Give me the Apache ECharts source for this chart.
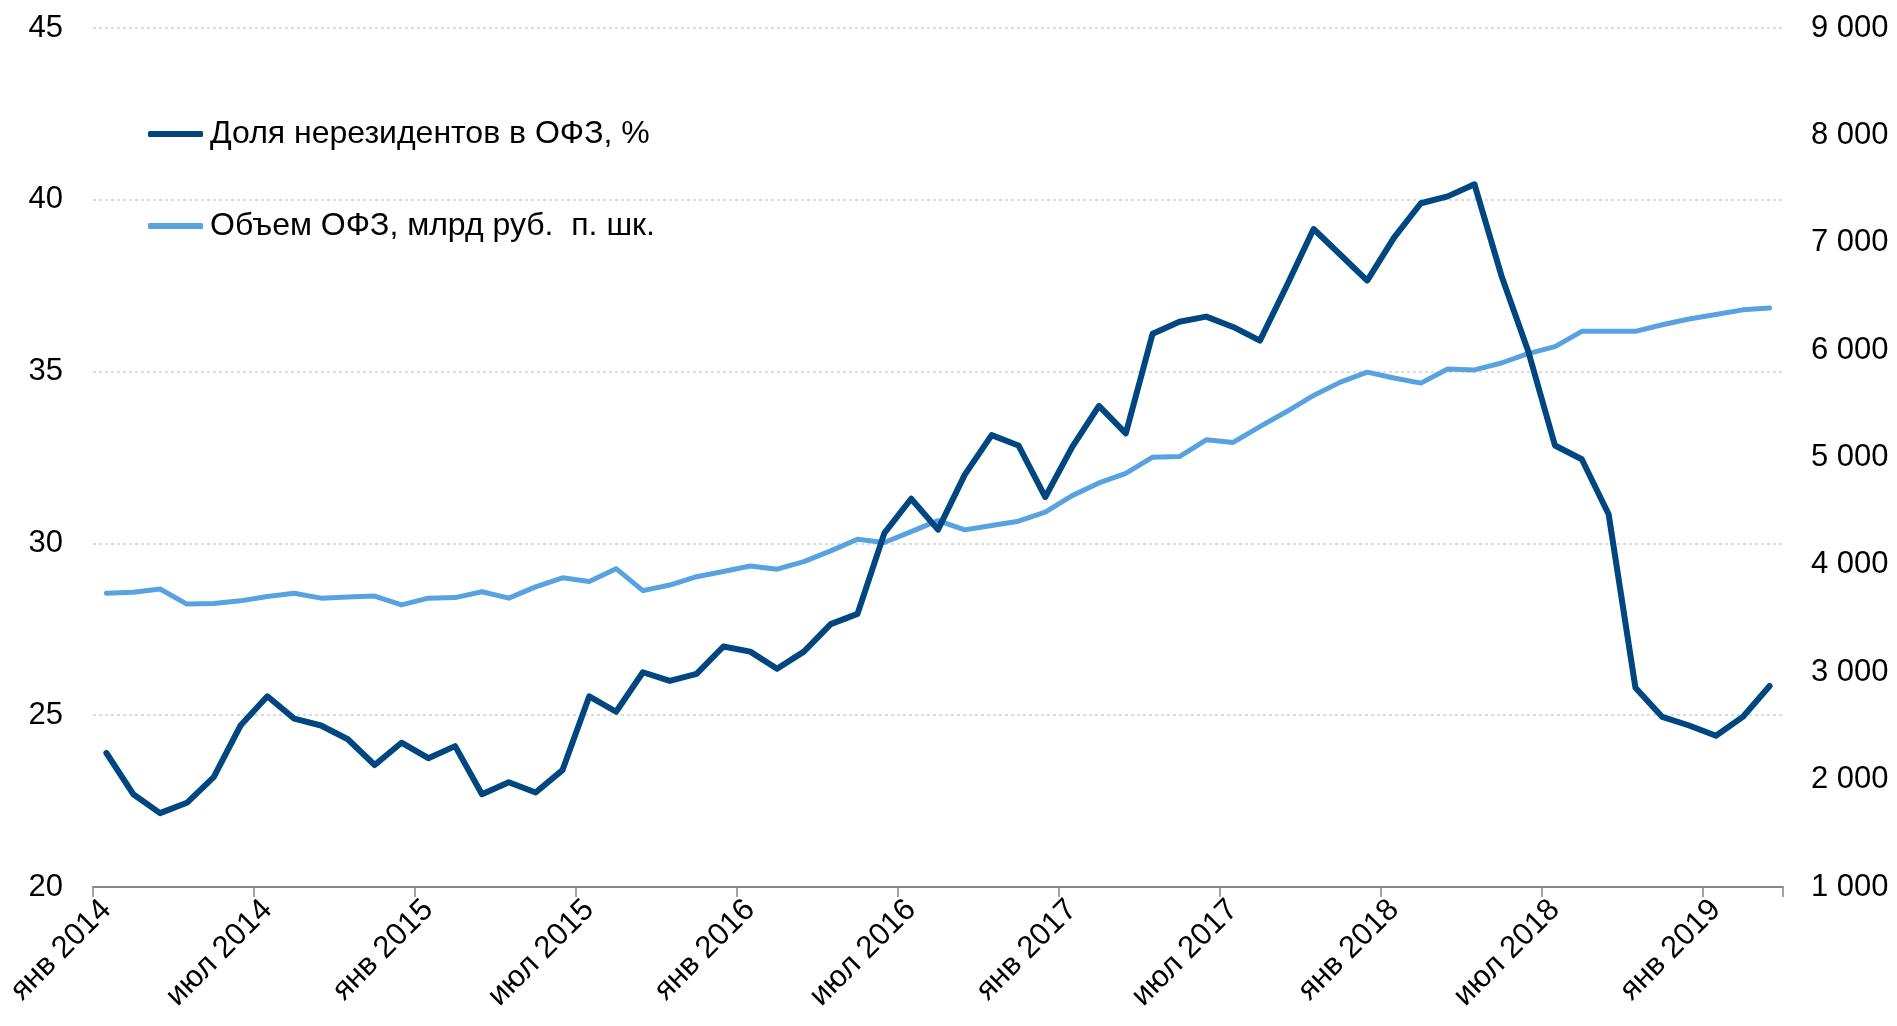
<!DOCTYPE html>
<html>
<head>
<meta charset="utf-8">
<script src="https://cdn.jsdelivr.net/npm/echarts@6/dist/echarts.min.js"></script>
<style>
html,body{margin:0;padding:0;background:#fff;}
#chart{width:1897px;height:1026px;}
</style>
</head>
<body>
<div id="chart"></div>
<script>
// ---- data ----
const monthNames = ['янв','фев','мар','апр','май','июн','июл','авг','сен','окт','ноя','дек'];
const years = [2014, 2015, 2016, 2017, 2018, 2019];
const monthCount = 63; // янв 2014 .. мар 2019

const shareNonResidents = [
  23.9, 22.7, 22.15, 22.45, 23.2, 24.7, 25.55, 24.9, 24.7, 24.3,
  23.55, 24.2, 23.75, 24.1, 22.7, 23.05, 22.75, 23.4, 25.55, 25.1,
  26.25, 26.0, 26.2, 27.0, 26.85, 26.35, 26.85, 27.65, 27.95, 30.3,
  31.3, 30.4, 32.0, 33.15, 32.85, 31.35, 32.8, 34.0, 33.2, 36.1,
  36.45, 36.6, 36.3, 35.9, 37.5, 39.15, 38.4, 37.65, 38.9, 39.9,
  40.1, 40.45, 37.8, 35.6, 32.85, 32.45, 30.85, 25.8, 24.95, 24.7,
  24.4, 24.95, 25.85
];
const ofzVolume = [
  3735, 3745, 3775, 3635, 3640, 3665, 3705, 3735, 3690, 3700,
  3710, 3627, 3690, 3695, 3750, 3690, 3795, 3880, 3845, 3965,
  3760, 3812, 3890, 3938, 3990, 3960, 4030, 4130, 4238, 4208,
  4310, 4412, 4326, 4366, 4407, 4492, 4645, 4763, 4853, 5003,
  5009, 5165, 5140, 5288, 5428, 5578, 5702, 5795, 5740, 5693,
  5825, 5816, 5880, 5968, 6032, 6175, 6175, 6175, 6236, 6290,
  6332, 6375, 6392
];
const seriesNames = ['Доля нерезидентов в ОФЗ, %', 'Объем ОФЗ, млрд руб.  п. шк.'];
const leftTicks = {min: 20, max: 45, interval: 5};
const rightTicks = {min: 1000, max: 9000, interval: 1000};

const categories = [];
for (let i = 0; i < monthCount; i++) {
  categories.push(monthNames[i % 12] + ' ' + years[Math.floor(i / 12)]);
}

// ---- chart ----
const FONT = 'Liberation Sans, Arial, sans-serif';
const chart = echarts.init(document.getElementById('chart'), null, {renderer: 'canvas'});
chart.setOption({
  animation: false,
  backgroundColor: '#ffffff',
  grid: {left: 93, right: 114, top: 28, bottom: 139, containLabel: false},
  legend: {
    orient: 'vertical',
    left: 143,
    top: 111,
    itemWidth: 55,
    itemHeight: 6,
    itemGap: 56,
    icon: 'roundRect',
    textStyle: {fontFamily: FONT, fontSize: 32, color: '#000', lineHeight: 36, padding: [0,0,0,2]},
    data: seriesNames
  },
  xAxis: {
    type: 'category',
    data: categories,
    boundaryGap: true,
    axisLine: {show: true, lineStyle: {color: '#878787', width: 2}},
    axisTick: {show: true, interval: 5, length: 10, lineStyle: {color: '#878787', width: 1.5}},
    axisLabel: {
      interval: 5, rotate: 45, margin: 18,
      fontFamily: FONT, fontSize: 31, color: '#000'
    },
    splitLine: {show: false}
  },
  yAxis: [
    {
      type: 'value', position: 'left',
      min: leftTicks.min, max: leftTicks.max, interval: leftTicks.interval,
      axisLine: {show: false}, axisTick: {show: false},
      axisLabel: {margin: 30, fontFamily: FONT, fontSize: 31, color: '#000'},
      splitLine: {show: true, lineStyle: {color: '#cfcfcf', width: 1.5, type: [3, 3]}}
    },
    {
      type: 'value', position: 'right',
      min: rightTicks.min, max: rightTicks.max, interval: rightTicks.interval,
      axisLine: {show: false}, axisTick: {show: false},
      axisLabel: {
        margin: 28, fontFamily: FONT, fontSize: 31, color: '#000', align: 'left',
        formatter: v => String(v).replace(/\B(?=(\d{3})+(?!\d))/g, ' ')
      },
      splitLine: {show: false}
    }
  ],
  series: [
    {
      name: seriesNames[0], type: 'line', yAxisIndex: 0,
      data: shareNonResidents, showSymbol: false, symbol: 'none',
      color: '#00467f',
      lineStyle: {color: '#00467f', width: 6, cap: 'round', join: 'round'},
      z: 3
    },
    {
      name: seriesNames[1], type: 'line', yAxisIndex: 1,
      data: ofzVolume, showSymbol: false, symbol: 'none',
      color: '#58a2e0',
      lineStyle: {color: '#58a2e0', width: 5, cap: 'round', join: 'round'},
      z: 2
    }
  ]
});
</script>
</body>
</html>
